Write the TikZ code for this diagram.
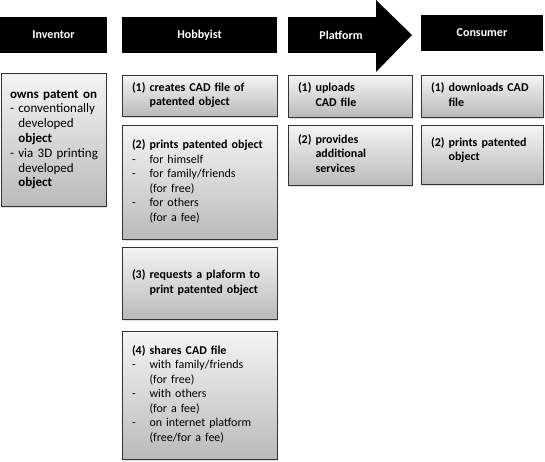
\documentclass[tikz,border=0pt]{standalone}
\usepackage{fontspec}
\setmainfont{Carlito}
\usetikzlibrary{positioning, shadows}

\begin{document}
\begin{tikzpicture}[x=1pt, y=-1pt, font=\fontsize{12}{14.5}\selectfont,
    head/.style={fill=black, text=white, font=\fontsize{12}{14.5}\selectfont\bfseries,
      minimum height=36pt, inner sep=0pt, outer sep=0pt},
    box/.style={draw=black!80, line width=1pt, top color=black!4, bottom color=black!27,
      drop shadow={shadow xshift=1pt, shadow yshift=-1.5pt, opacity=0.25},
      font=\fontsize{12}{14.5}\selectfont\bfseries, inner xsep=10pt, inner ysep=0pt,
      outer sep=0pt}]
  \useasboundingbox (0,0) rectangle (545,461);
  \node[head, minimum width=107pt] (inv) at (53.5,35) {Inventor};
  \node[head, minimum width=155pt] (hob) [right=15pt of inv] {Hobbyist};
  \node[head, minimum width=88pt] (plat) [right=11pt of hob] {\hspace*{18pt}Platform};
  \node[head, minimum width=122pt] (con) [right=45pt of plat, yshift=2pt] {Consumer};
  \fill ([yshift=17pt]plat.north east) -- ([xshift=36pt]plat.east)
    -- ([yshift=-19pt]plat.south east) -- cycle;

  \node[box, text width=87pt, minimum height=133pt, inner xsep=9pt,
    font=\fontsize{13}{14.8}\selectfont\bfseries] (inv1) [below=20pt of inv]
    {\begin{tabular}{@{}l@{\ }l@{}}
      \multicolumn{2}{@{}l@{}}{owns patent on}\\
      \mdseries - & \mdseries conventionally\\
      & \mdseries developed\\
      & object\\
      \mdseries - & \mdseries via 3D printing\\
      & \mdseries developed\\
      & object
    \end{tabular}};

  \node[box, text width=135pt, minimum height=41pt] (hob1) [below=22pt of hob]
    {\begin{tabular}{@{}l@{\ }l@{}}
      (1) & creates CAD file of\\
      & patented object
    \end{tabular}};
  \node[box, text width=135pt, minimum height=114pt] (hob2) [below=9pt of hob1]
    {\begin{tabular}{@{}l@{\ }l@{}}
      (2) & prints patented object\\
      \mdseries - & \mdseries for himself\\
      \mdseries - & \mdseries for family/friends\\
      & \mdseries (for free)\\
      \mdseries - & \mdseries for others\\
      & \mdseries (for a fee)
    \end{tabular}};
  \node[box, text width=135pt, minimum height=72pt] (hob3) [below=8pt of hob2]
    {\begin{tabular}{@{}l@{\ }l@{}}
      (3) & requests a plaform to\\
      & print patented object
    \end{tabular}};
  \node[box, text width=135pt, minimum height=128pt] (hob4) [below=12pt of hob3]
    {\begin{tabular}{@{}l@{\ }l@{}}
      (4) & shares CAD file\\
      \mdseries - & \mdseries with family/friends\\
      & \mdseries (for free)\\
      \mdseries - & \mdseries with others\\
      & \mdseries (for a fee)\\
      \mdseries - & \mdseries on internet platform\\
      & \mdseries (free/for a fee)
    \end{tabular}};

  \node[box, text width=104pt, minimum height=42pt] (plat1) [below=22pt of plat.south west, anchor=north west]
    {\begin{tabular}{@{}l@{\ }l@{}}
      (1) & uploads\\
      & CAD file
    \end{tabular}};
  \node[box, text width=104pt, minimum height=60pt] (plat2) [below=8pt of plat1]
    {\begin{tabular}{@{}l@{\ }l@{}}
      (2) & provides\\
      & additional\\
      & services
    \end{tabular}};

  \node[box, text width=102pt, minimum height=42pt] (con1) [below=24pt of con]
    {\begin{tabular}{@{}l@{\ }l@{}}
      (1) & downloads CAD\\
      & file
    \end{tabular}};
  \node[box, text width=102pt, minimum height=59pt] (con2) [below=8pt of con1]
    {\begin{tabular}{@{}l@{\ }l@{}}
      (2) & prints patented\\
      & object\\[8pt]
    \end{tabular}};
\end{tikzpicture}
\end{document}
